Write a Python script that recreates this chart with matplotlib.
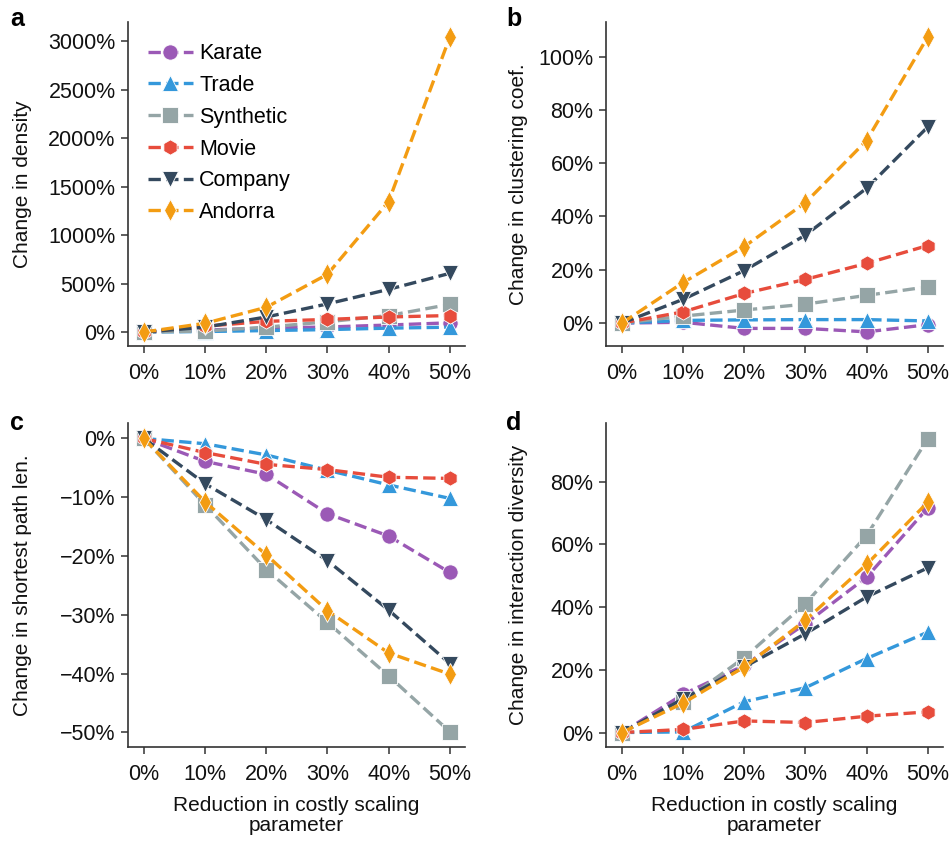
import matplotlib
matplotlib.use('Agg')
from matplotlib import pyplot as plt
from matplotlib.ticker import FuncFormatter

plt.rcParams['font.family'] = ['Liberation Sans', 'DejaVu Sans']

reduction = [0, 10, 20, 30, 40, 50]
names = ['Karate', 'Trade', 'Synthetic', 'Movie', 'Company', 'Andorra']
colors = ['#9b59b6', '#3498db', '#95a5a6', '#e74c3c', '#34495e', '#f39c12']
markers = ['o', '^', 's', 'h', 'v', 'd']

# a: change in density (%)
density = {
    'Karate':    [0, 20, 40, 52, 72, 95],
    'Trade':     [0, 5, 15, 25, 40, 50],
    'Synthetic': [0, 10, 50, 106, 170, 285],
    'Movie':     [0, 60, 110, 130, 155, 170],
    'Company':   [0, 50, 155, 290, 440, 605],
    'Andorra':   [0, 90, 255, 595, 1345, 3040],
}
# b: change in clustering coefficient (%)
clustering = {
    'Karate':    [0, 0.3, -2.0, -2.0, -3.3, -0.6],
    'Trade':     [0, 1.0, 1.2, 1.3, 1.3, 0.8],
    'Synthetic': [0, 2.6, 4.9, 7.1, 10.4, 13.6],
    'Movie':     [0, 4.2, 11.1, 16.4, 22.4, 29.1],
    'Company':   [0, 8.9, 19.7, 33.0, 50.6, 73.6],
    'Andorra':   [0, 15.2, 28.7, 45.2, 68.5, 107.4],
}
# c: change in shortest path length (%)
path_len = {
    'Karate':    [0, -3.9, -6.1, -12.8, -16.6, -22.8],
    'Trade':     [0, -0.9, -2.8, -5.4, -7.9, -10.2],
    'Synthetic': [0, -11.3, -22.3, -31.3, -40.4, -49.9],
    'Movie':     [0, -2.4, -4.4, -5.3, -6.6, -6.8],
    'Company':   [0, -7.7, -13.8, -20.8, -29.2, -38.3],
    'Andorra':   [0, -10.8, -19.8, -29.3, -36.5, -40.1],
}
# d: change in interaction diversity (%)
diversity = {
    'Karate':    [0, 12.2, 21.4, 34.7, 49.5, 71.6],
    'Trade':     [0, 0.2, 9.8, 14.3, 23.6, 32.0],
    'Synthetic': [0, 9.8, 23.9, 41.1, 62.8, 93.6],
    'Movie':     [0, 1.0, 3.7, 3.2, 5.2, 6.6],
    'Company':   [0, 10.8, 20.9, 31.5, 43.2, 52.5],
    'Andorra':   [0, 9.4, 20.9, 35.8, 53.6, 73.4],
}

fig = plt.figure(figsize=(9.52, 8.41), dpi=100)
w, h = 0.354, 0.385
axa = fig.add_axes([0.1345, 0.5886, w, h])
axb = fig.add_axes([0.6366, 0.5886, w, h])
axc = fig.add_axes([0.1345, 0.1118, w, h])
axd = fig.add_axes([0.6366, 0.1118, w, h])

panels = [
    (axa, density, 'Change in density', (-144, 3195), [0, 500, 1000, 1500, 2000, 2500, 3000], -0.285),
    (axb, clustering, 'Change in clustering coef.', (-8.6, 112.9), [0, 20, 40, 60, 80, 100], -0.231),
    (axc, path_len, 'Change in shortest path len.', (-52.5, 2.6), [0, -10, -20, -30, -40, -50], -0.285),
    (axd, diversity, 'Change in interaction diversity', (-4.6, 98.6), [0, 20, 40, 60, 80], -0.231),
]

pct = FuncFormatter(lambda v, p: ('%d%%' % round(v)).replace('-', '\u2212'))

for ax, data, ylabel, ylim, yticks, labx in panels:
    for name, c, m in zip(names, colors, markers):
        ax.plot(reduction, data[name], ls='--', lw=2.4, color=c, marker=m,
                ms=11, mec='white', mew=0.6, dashes=(3.7, 1.6), label=name)
    ax.set_xlim(-2.6, 52.5)
    ax.set_ylim(*ylim)
    ax.set_xticks(reduction)
    ax.set_yticks(yticks)
    ax.xaxis.set_major_formatter(pct)
    ax.yaxis.set_major_formatter(pct)
    ax.set_ylabel(ylabel, fontsize=15, color='#111111')
    ax.yaxis.set_label_coords(labx, 0.5)
    for s in ['top', 'right']:
        ax.spines[s].set_visible(False)
    for s in ['left', 'bottom']:
        ax.spines[s].set_color('#333333')
        ax.spines[s].set_linewidth(1.2)
    ax.tick_params(axis='both', labelsize=15.5, length=5, width=1.1,
                   color='#333333', labelcolor='#111111', pad=4)
    ax.tick_params(axis='x', pad=7)

for ax, letter, xpos in [(axa, 'a', 0.0105), (axb, 'b', 0.532),
                         (axc, 'c', 0.0105), (axd, 'd', 0.532)]:
    y = 0.978 if ax in (axa, axb) else 0.497
    fig.text(xpos, y, letter, fontsize=18, fontweight='bold',
             va='center', ha='left')

for ax in (axc, axd):
    ax.set_xlabel('Reduction in costly scaling\nparameter', fontsize=15,
                  color='#111111', labelpad=8, linespacing=1.1)

axa.legend(loc='upper left', bbox_to_anchor=(0.02, 0.975), frameon=False,
           fontsize=15.5, handlelength=2.1, handletextpad=0.3,
           labelspacing=0.5, borderaxespad=0.2)

fig.savefig('out.png', dpi=100)
